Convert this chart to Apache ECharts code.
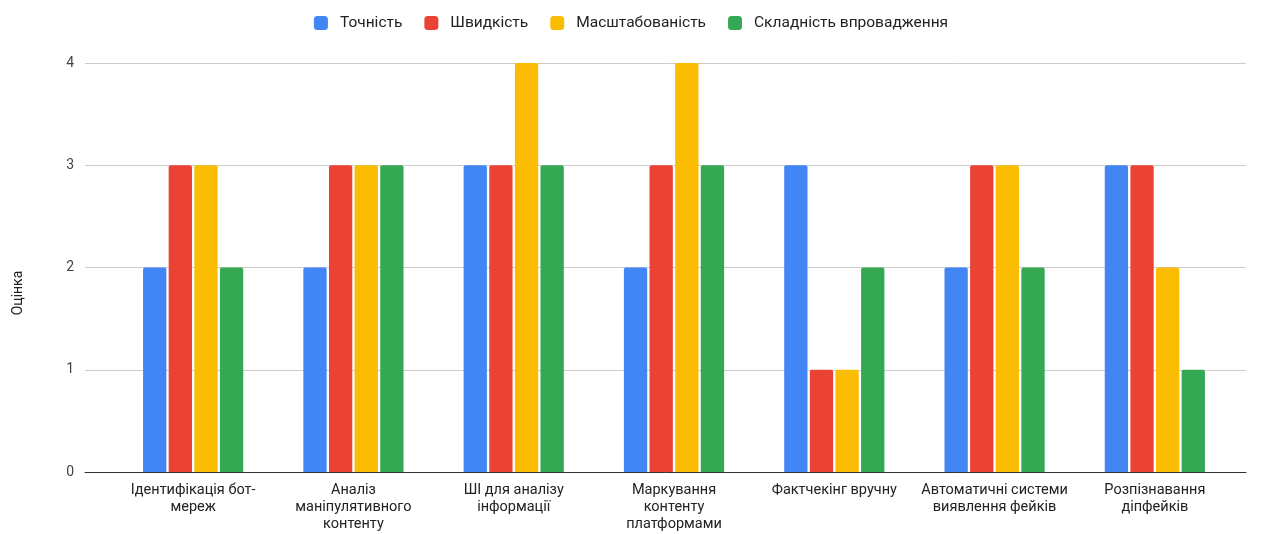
<!DOCTYPE html>
<html>
<head>
<meta charset="utf-8">
<script src="https://cdn.jsdelivr.net/npm/echarts@6/dist/echarts.min.js"></script>
<style>
  html, body {margin: 0; padding: 0; background: #fff;}
  #chart {width: 1262px; height: 534px;}
</style>
</head>
<body>
<div id="chart"></div>
<script>
const categories = [
  'Ідентифікація бот-\nмереж',
  'Аналіз\nманіпулятивного\nконтенту',
  'ШІ для аналізу\nінформації',
  'Маркування\nконтенту\nплатформами',
  'Фактчекінг вручну',
  'Автоматичні системи\nвиявлення фейків',
  'Розпізнавання\nдіпфейків'
];
const accuracy = [2, 2, 3, 2, 3, 2, 3];
const speed = [3, 3, 3, 3, 1, 3, 3];
const scalability = [3, 3, 4, 4, 1, 3, 2];
const complexity = [2, 3, 3, 3, 2, 2, 1];
const seriesNames = ['Точність', 'Швидкість', 'Масштабованість', 'Складність впровадження'];
const colors = ['#4285F4', '#EA4335', '#FBBC04', '#34A853'];

const chart = echarts.init(document.getElementById('chart'));
const font = 'Roboto, Arial, sans-serif';

const bar = (name, data, color) => ({
  name: name,
  type: 'bar',
  xAxisIndex: 1,
  yAxisIndex: 1,
  data: data,
  barGap: '10%',
  barCategoryGap: '37.5%',
  itemStyle: {color: color, borderRadius: [2, 2, 0, 0]}
});

const option = {
  animation: false,
  color: colors,
  textStyle: {fontFamily: font},
  legend: {
    top: 10,
    left: 'center',
    itemWidth: 14,
    itemHeight: 14,
    itemGap: 22,
    icon: 'roundRect',
    textStyle: {fontSize: 15.5, color: '#222', fontFamily: font, padding: [0, 0, 0, 7]},
    data: seriesNames
  },
  grid: [
    // gridlines / y labels across the full width
    {left: 85, right: 16, top: 63, bottom: 62},
    // bars
    {left: 113, right: 27, top: 63, bottom: 62}
  ],
  xAxis: [
    {
      type: 'category',
      gridIndex: 0,
      data: categories,
      axisLine: {lineStyle: {color: '#333', width: 1}},
      axisTick: {show: false},
      axisLabel: {show: false}
    },
    {
      type: 'category',
      gridIndex: 1,
      data: categories,
      axisLine: {show: false},
      axisTick: {show: false},
      axisLabel: {
        color: '#222',
        fontSize: 14.5,
        lineHeight: 17,
        margin: 10,
        interval: 0,
        fontFamily: font
      }
    }
  ],
  yAxis: [
    {
      type: 'value',
      gridIndex: 0,
      min: 0,
      max: 4,
      interval: 1,
      axisLine: {show: false},
      axisTick: {show: false},
      axisLabel: {color: '#444', fontSize: 14, margin: 11, fontFamily: font},
      splitLine: {lineStyle: {color: '#ccc', width: 1}}
    },
    {
      type: 'value',
      gridIndex: 1,
      min: 0,
      max: 4,
      interval: 1,
      show: false
    }
  ],
  graphic: [{
    type: 'text',
    x: 18,
    y: 293,
    rotation: Math.PI / 2,
    style: {
      text: 'Оцінка',
      fill: '#222',
      font: '14px ' + font,
      textAlign: 'center',
      textVerticalAlign: 'middle'
    }
  }],
  series: [
    bar(seriesNames[0], accuracy, colors[0]),
    bar(seriesNames[1], speed, colors[1]),
    bar(seriesNames[2], scalability, colors[2]),
    bar(seriesNames[3], complexity, colors[3])
  ]
};

chart.setOption(option);
</script>
</body>
</html>
